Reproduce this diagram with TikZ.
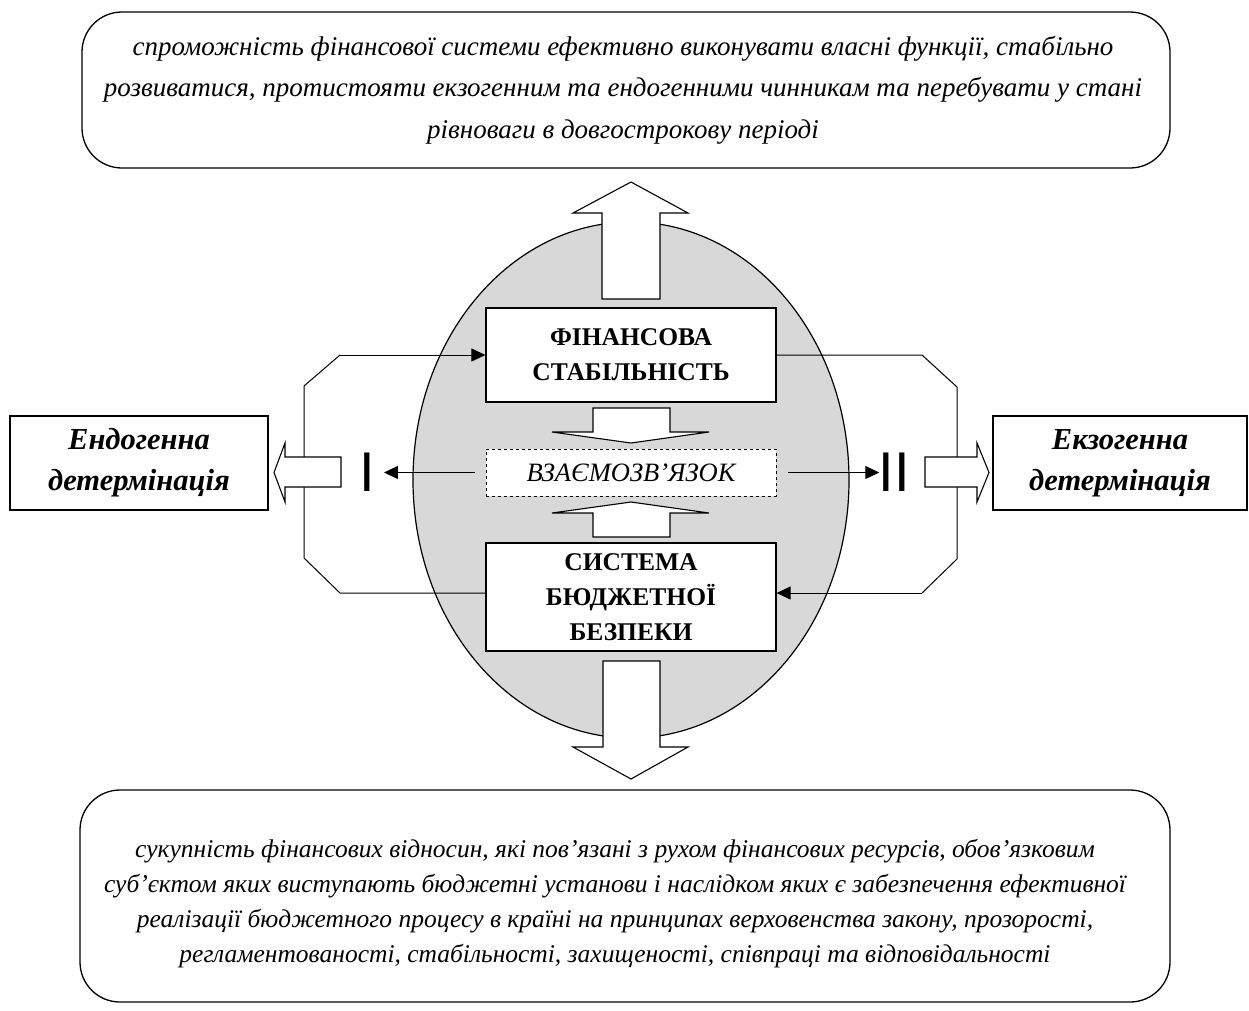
\documentclass[tikz,border=0pt]{standalone}
\usepackage{fontspec}
\setmainfont{Liberation Serif}
\newfontfamily\numfont{Liberation Sans}
\usetikzlibrary{arrows.meta,shapes.geometric}
\definecolor{ovalgray}{RGB}{216,216,216}
\tikzset{
  roundbox/.style={draw, line width=1.3pt, rounded corners=40pt, inner sep=0pt},
  mainbox/.style={draw, fill=white, line width=1.2pt, minimum width=290pt, inner sep=0pt, align=center,
    font=\bfseries\fontsize{25.5}{35}\selectfont},
  sidebox/.style={draw, fill=white, line width=1.2pt, inner sep=0pt, align=center,
    font=\bfseries\itshape\fontsize{30.5}{41}\selectfont},
  hollow/.style={draw, fill=white, line width=1.1pt, line join=miter},
  conn/.style={draw, line width=1pt},
  smallarrow/.style={draw, line width=1pt, -{Triangle[length=14pt,width=13pt]}},
  numeral/.style={inner sep=0pt, font=\numfont\fontsize{56}{56}\selectfont}
}
\begin{document}
\begin{tikzpicture}[x=1pt,y=-1pt]
\useasboundingbox (0,0) rectangle (1249,1010);
% top and bottom definition boxes
\node[roundbox, minimum width=1088pt, minimum height=156pt] (topbox) at (626,90) {};
\node[align=center, font=\itshape\fontsize{27}{41.5}\selectfont] (toptext) at (623,90)
 {спроможність фінансової системи ефективно виконувати власні функції, стабільно\\
  розвиватися, протистояти екзогенним та ендогенними чинникам та перебувати у стані\\
  рівноваги в довгострокову періоді};
\node[roundbox, minimum width=1090pt, minimum height=212pt] (botbox) at (625,896) {};
\node[align=center, font=\itshape\fontsize{25.5}{35}\selectfont] (bottext) at (615,904)
 {сукупність фінансових відносин, які пов’язані з рухом фінансових ресурсів, обов’язковим\\
  суб’єктом яких виступають бюджетні установи і наслідком яких є забезпечення ефективної\\
  реалізації бюджетного процесу в країні на принципах верховенства закону, прозорості,\\
  регламентованості, стабільності, захищеності, співпраці та відповідальності};
% oval
\node[draw, fill=ovalgray, line width=1.2pt, ellipse, minimum width=436pt, minimum height=516pt, inner sep=0pt] (oval) at (631,480) {};
% main boxes
\node[mainbox, minimum height=94pt] (fs) at (631,355) {ФІНАНСОВА\\СТАБІЛЬНІСТЬ};
\node[mainbox, minimum height=108pt] (sbb) at (631,597) {СИСТЕМА\\БЮДЖЕТНОЇ\\БЕЗПЕКИ};
\node[draw, fill=white, dashed, line width=1pt, minimum width=290pt, minimum height=47pt, inner sep=0pt,
  font=\itshape\fontsize{26.5}{26.5}\selectfont] (vz) at (631,472.5) {ВЗАЄМОЗВ’ЯЗОК};
% side boxes
\node[sidebox, minimum width=258pt, minimum height=94pt] (endo) at (139,463) {Ендогенна\\детермінація};
\node[sidebox, minimum width=254pt, minimum height=94pt] (exo) at (1120,463) {Екзогенна\\детермінація};
% feedback connectors
\draw[conn] ([yshift=4pt]sbb.west) -- (340,593) -- (304,558) -- (304,386) -- (340,355);
\draw[smallarrow] (340,355) -- (fs.west);
\draw[conn] (fs.east) -- (922,355) -- (957,387) -- (957,559) -- (922,593);
\draw[smallarrow] (922,593) -- ([yshift=4pt]sbb.east);
% numerals
\node[numeral] (n1) at (367,472.5) {I};
\node[numeral] (n2) at (894,472.5) {II};
\draw[smallarrow] ([xshift=-11pt]vz.west) -- ([xshift=9pt]n1.east);
\draw[smallarrow] ([xshift=11pt]vz.east) -- ([xshift=1pt]n2.west);
% hollow arrows
\draw[hollow] (341,457) -- (285,457) -- (285,443) -- (274,472.5) -- (285,502) -- (285,487) -- (341,487) -- cycle;
\draw[hollow] (925,457) -- (977,457) -- (977,443) -- (989,472.5) -- (977,502) -- (977,487) -- (925,487) -- cycle;
\draw[hollow] (602,299) -- (602,213) -- (573,213) -- (631,182) -- (688,213) -- (660,213) -- (660,299) -- cycle;
\draw[hollow] (593,408) -- (670,408) -- (670,432) -- (709,432) -- (631,443) -- (552,432) -- (593,432) -- cycle;
\draw[hollow] (593,537) -- (670,537) -- (670,513) -- (709,513) -- (631,502) -- (552,513) -- (593,513) -- cycle;
\draw[hollow] (603,661) -- (660,661) -- (660,747) -- (688,747) -- (631,779) -- (573,747) -- (603,747) -- cycle;
\end{tikzpicture}
\end{document}
